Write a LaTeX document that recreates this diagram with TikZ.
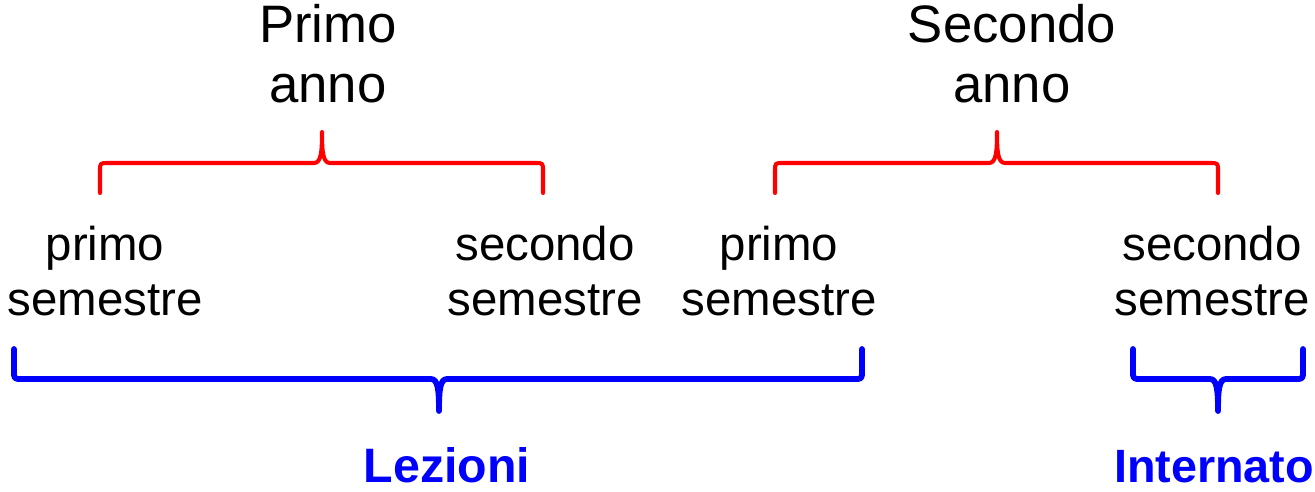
\documentclass[tikz,border=0pt]{standalone}
\usepackage{fontspec}
\setmainfont{Liberation Sans}
\definecolor{bracered}{RGB}{255,0,0}
\definecolor{braceblue}{RGB}{0,0,255}
% curly brace: #1 style, #2 left x, #3 right x, #4 tip x, #5 bar y, #6 end y, #7 tip y
\newcommand\curlybrace[7]{%
  \draw[#1]
    (#2,#6) -- (#2,{#5+0.27*(#6-#5)})
    .. controls (#2,#5) .. ({#2+8},#5)
    -- ({#4-8},#5)
    .. controls ({#4-1},#5) and (#4,{#5+0.35*(#7-#5)}) .. (#4,#7)
    .. controls (#4,{#5+0.35*(#7-#5)}) and ({#4+1},#5) .. ({#4+8},#5)
    -- ({#3-8},#5)
    .. controls (#3,#5) .. (#3,{#5+0.27*(#6-#5)})
    -- (#3,#6);}
\tikzset{
  yearlbl/.style={inner sep=0pt, align=center, font=\fontsize{30}{34}\selectfont},
  semlbl/.style={inner sep=0pt, align=center, font=\fontsize{27}{31.5}\selectfont},
  partlbl/.style={inner sep=0pt, anchor=base, text=braceblue, font=\fontsize{27.5}{32}\selectfont\bfseries},
  yearbrace/.style={draw=bracered, line width=2.3pt, line cap=round, line join=round},
  partbrace/.style={draw=braceblue, line width=3.3pt, line cap=round, line join=round}
}
\begin{document}
\begin{tikzpicture}[x=0.02cm, y=-0.02cm]
\useasboundingbox (0,0) rectangle (1315,491);

% years
\node[yearlbl] (y1) at (328,54) {Primo\\anno};
\node[yearlbl] (y2) at (1012,54) {Secondo\\anno};

% semesters
\node[semlbl] (s1) at (105,271) {primo\\semestre};
\node[semlbl] (s2) at (545,271) {secondo\\semestre};
\node[semlbl] (s3) at (779,271) {primo\\semestre};
\node[semlbl] (s4) at (1212,271) {secondo\\semestre};

% parts of the course
\node[partlbl] (p1) at (447,482) {Lezioni};
\node[partlbl, font=\fontsize{26.6}{32}\selectfont\bfseries] (p2) at (1214,482) {Internato};

% braces grouping semesters into years
\curlybrace{yearbrace}{100}{543}{322}{163}{193}{132}
\curlybrace{yearbrace}{775}{1218}{997}{163}{193}{132}

% braces grouping semesters into lessons and internship
\curlybrace{partbrace}{14}{862}{439}{379}{349}{411}
\curlybrace{partbrace}{1133}{1303}{1218}{379}{349}{411}
\end{tikzpicture}
\end{document}
